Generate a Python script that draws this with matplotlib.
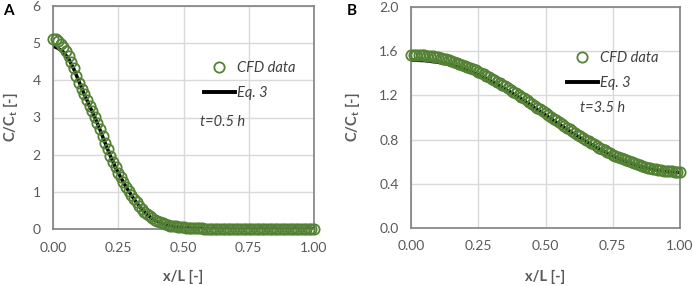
import numpy as np
import matplotlib
matplotlib.use("Agg")
import matplotlib.pyplot as plt
from matplotlib.lines import Line2D

plt.rcParams['font.family'] = ['Lato', 'DejaVu Sans']
plt.rcParams['mathtext.fontset'] = 'custom'
plt.rcParams['mathtext.rm'] = 'Lato:bold'
plt.rcParams['mathtext.bf'] = 'Lato:bold'

# ---------------- data ----------------
x_cfd = np.round(np.arange(101) * 0.01, 2)
cfd_a = [5.12, 5.10, 5.06, 4.99, 4.90, 4.80, 4.66, 4.50, 4.33, 4.13,
         3.94, 3.78, 3.63, 3.48, 3.32, 3.17, 3.02, 2.85, 2.68, 2.50,
         2.32, 2.14, 1.97, 1.81, 1.66, 1.52, 1.39, 1.26, 1.14, 1.03,
         0.92, 0.82, 0.72, 0.63, 0.55, 0.47, 0.40, 0.34, 0.29, 0.25,
         0.21, 0.18, 0.15, 0.13, 0.11, 0.09, 0.08, 0.07, 0.06, 0.05,
         0.045, 0.04, 0.035, 0.03, 0.025, 0.02, 0.02, 0.015, 0.01, 0.01,
         0.01, 0.01, 0.005, 0.005, 0.005, 0.005, 0.0, 0.0, 0.0, 0.0,
         0.0, 0.0, 0.0, 0.0, 0.0, 0.0, 0.0, 0.0, 0.0, 0.0,
         0.0, 0.0, 0.0, 0.0, 0.0, 0.0, 0.0, 0.0, 0.0, 0.0,
         0.0, 0.0, 0.0, 0.0, 0.0, 0.0, 0.0, 0.0, 0.0, 0.0, 0.0]
cfd_b = [1.570, 1.570, 1.569, 1.568, 1.566, 1.563, 1.561, 1.557, 1.553, 1.549,
         1.544, 1.539, 1.533, 1.526, 1.520, 1.512, 1.504, 1.496, 1.487, 1.478,
         1.469, 1.459, 1.448, 1.438, 1.426, 1.415, 1.403, 1.390, 1.378, 1.365,
         1.352, 1.338, 1.324, 1.310, 1.295, 1.281, 1.266, 1.250, 1.235, 1.220,
         1.204, 1.188, 1.172, 1.156, 1.139, 1.123, 1.106, 1.090, 1.073, 1.057,
         1.040, 1.023, 1.007, 0.990, 0.974, 0.957, 0.941, 0.924, 0.908, 0.892,
         0.876, 0.860, 0.845, 0.830, 0.814, 0.799, 0.785, 0.770, 0.756, 0.742,
         0.728, 0.715, 0.702, 0.690, 0.677, 0.665, 0.654, 0.642, 0.632, 0.622,
         0.611, 0.602, 0.593, 0.584, 0.576, 0.568, 0.560, 0.554, 0.547, 0.541,
         0.536, 0.531, 0.527, 0.523, 0.519, 0.517, 0.514, 0.512, 0.511, 0.510, 0.510]

x_eq_a = np.round(np.arange(51) * 0.02, 2)
eq_a = [4.92, 4.86, 4.76, 4.58, 4.30, 3.96, 3.62, 3.31, 3.01, 2.67,
        2.31, 1.96, 1.65, 1.38, 1.13, 0.91, 0.71, 0.54, 0.39, 0.28,
        0.20, 0.14, 0.10, 0.075, 0.055, 0.04, 0.03, 0.02, 0.01, 0.01,
        0.005, 0.005, 0.0, 0.0, 0.0, 0.0, 0.0, 0.0, 0.0, 0.0,
        0.0, 0.0, 0.0, 0.0, 0.0, 0.0, 0.0, 0.0, 0.0, 0.0, 0.0]
x_eq_b = np.round(np.arange(21) * 0.05, 2)
eq_b = [1.520, 1.515, 1.500, 1.475, 1.435, 1.385, 1.325, 1.257, 1.184, 1.105,
        1.022, 0.940, 0.860, 0.785, 0.715, 0.653, 0.600, 0.558, 0.527, 0.508, 0.502]

x_ticks = [0.00, 0.25, 0.50, 0.75, 1.00]
x_ticklabels = ["0.00", "0.25", "0.50", "0.75", "1.00"]
y_ticks_a = [0, 1, 2, 3, 4, 5, 6]
y_ticks_b = [0.0, 0.4, 0.8, 1.2, 1.6, 2.0]
y_ticklabels_b = ["0.0", "0.4", "0.8", "1.2", "1.6", "2.0"]

# ---------------- style ----------------
W, H = 693, 286
fig = plt.figure(figsize=(W / 100, H / 100), dpi=100)

green = '#548235'
tick_col = '#595959'
spine_col = '#808080'
grid_col = '#d9d9d9'


def px_axes(l, r, t, b):
    return fig.add_axes([l / W, 1 - b / H, (r - l) / W, (b - t) / H])


def style(ax, yt, ytl, ylim):
    ax.set_xlim(0, 1)
    ax.set_ylim(*ylim)
    ax.set_xticks(x_ticks)
    ax.set_xticklabels(x_ticklabels)
    ax.set_yticks(yt)
    ax.set_yticklabels(ytl)
    ax.tick_params(length=0, pad=9, labelsize=10, labelcolor=tick_col)
    ax.grid(True, color=grid_col, lw=1.0)
    ax.set_axisbelow(True)
    for s in ax.spines.values():
        s.set_color(spine_col)
        s.set_linewidth(1.2)
    ax.set_xlabel("x/L [-]", fontsize=10.5, fontweight='bold', color=tick_col)
    ax.set_ylabel(r"C/C$_{\mathbf{t}}$ [-]", fontsize=10.5, fontweight='bold', color=tick_col)
    ax.xaxis.label.set_va('center')
    ax.yaxis.label.set_va('center')


def draw(ax, xc, yc, xe, ye, leg_xy, t_xy, t_text):
    ax.plot(xe, ye, color='black', lw=2.5, zorder=2)
    ax.plot(xc, yc, ls='none', marker='o', ms=7.4, mfc='none', mec=green, mew=1.3,
            zorder=3, clip_on=False)
    h1 = Line2D([], [], ls='none', marker='o', ms=7.4, mfc='none', mec=green, mew=1.3)
    h2 = Line2D([], [], color='black', lw=2.8)
    leg = ax.legend([h1, h2], ["CFD data", "Eq. 3"], loc='upper left',
                    bbox_to_anchor=(leg_xy[0] / W, 1 - leg_xy[1] / H),
                    bbox_transform=fig.transFigure, frameon=False,
                    borderpad=0, borderaxespad=0, handlelength=2.1,
                    handletextpad=0.15, labelspacing=0.75,
                    prop={'style': 'italic', 'size': 10.5})
    for t in leg.get_texts():
        t.set_color('#404040')
    fig.text(t_xy[0] / W, 1 - t_xy[1] / H, t_text, style='italic', fontsize=10.5,
             color='#404040', ha='left', va='center')


axA = px_axes(53, 314, 6, 229)
style(axA, y_ticks_a, [str(v) for v in y_ticks_a], (0, 6))
draw(axA, x_cfd, cfd_a, x_eq_a, eq_a, (204, 61), (200, 122), "t=0.5 h")
axA.xaxis.set_label_coords(0.5, -(277 - 229) / 223)
axA.yaxis.set_label_coords((10 - 53) / 261, 0.5)

axB = px_axes(411, 680, 7, 228)
style(axB, y_ticks_b, y_ticklabels_b, (0, 2.0))
draw(axB, x_cfd, cfd_b, x_eq_b, eq_b, (567, 51), (580, 108), "t=3.5 h")
axB.xaxis.set_label_coords(0.5, -(277 - 228) / 221)
axB.yaxis.set_label_coords((352 - 411) / 269, 0.5)

fig.text(8 / W, 1 - 11 / H, "A", fontsize=11, fontweight='bold', ha='center', va='center')
fig.text(352 / W, 1 - 11 / H, "B", fontsize=11, fontweight='bold', ha='center', va='center')

fig.savefig("out.png", dpi=100)
